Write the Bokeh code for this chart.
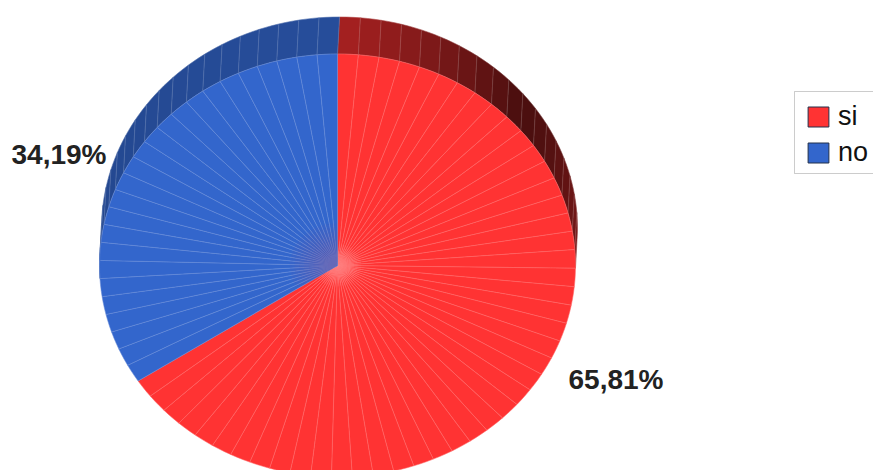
import numpy as np
from bokeh.embed import file_html
from bokeh.resources import INLINE
from bokeh.plotting import figure
from bokeh.models import BoxAnnotation, ColumnDataSource, Legend, LegendItem, Range1d, Label

categories = ["si", "no"]
shares = [65.81, 34.19]
labels = ["65,81%", "34,19%"]
colors = ["#FF3333", "#3366CC"]

W, H = 873, 470
CX, CY, RX, RY = 337.0, 265.0, 238.0, 211.5
DX, DY = 2.0, -37.0
STEP = 5.0


def hex2rgb(h):
    return np.array([int(h[i:i + 2], 16) for i in (1, 3, 5)], dtype=float)


def shade(h, f):
    r = np.clip(hex2rgb(h) * f, 0, 255).astype(int)
    return "#%02x%02x%02x" % tuple(r)


def mix(h, f):
    r = hex2rgb(h)
    r = r + (255 - r) * f
    return "#%02x%02x%02x" % tuple(r.astype(int))


def wall_shade(i, deg):
    # deg: clockwise from 12 o'clock
    if i == 0:
        return np.interp(deg, [0, 50, 62, 95, 130], [0.66, 0.29, 0.33, 0.50, 0.60])
    return np.interp(deg, [230, 300, 360], [0.68, 0.72, 0.76])


faces = {k: [] for k in ("x", "y", "c", "e")}
walls = {k: [] for k in ("x", "y", "c", "e")}
glow = {k: [] for k in ("x", "y", "c", "a")}
start = 0.0
total = sum(shares)
for i, s in enumerate(shares):
    sweep = 360.0 * s / total
    n = int(round(sweep / STEP))
    edges = np.linspace(start, start + sweep, n + 1)
    for a, b in zip(edges[:-1], edges[1:]):
        ang = np.radians(np.linspace(a, b, 4))
        ex = CX + RX * np.sin(ang)
        ey = CY - RY * np.cos(ang)
        faces["x"].append(np.r_[CX, ex].tolist())
        faces["y"].append(np.r_[CY, ey].tolist())
        faces["c"].append(colors[i])
        faces["e"].append(mix(colors[i], 0.25))
        # only the far half of the rim shows a wall
        mid = (a + b) / 2
        if np.cos(np.radians(mid)) > -0.02:
            walls["x"].append(np.r_[ex, (ex + DX)[::-1]].tolist())
            walls["y"].append(np.r_[ey, (ey + DY)[::-1]].tolist())
            col = shade(colors[i], wall_shade(i, mid))
            walls["c"].append(col)
            walls["e"].append(mix(col, 0.2))
    # the dense meeting of the facet lines near the centre
    ang = np.radians(np.linspace(start, start + sweep, 60))
    fracs = np.arange(0.20, 0.02, -0.02) if i == 1 else np.arange(0.10, 0.01, -0.015)
    for frac in fracs:
        glow["x"].append(np.r_[CX, CX + frac * RX * np.sin(ang)].tolist())
        glow["y"].append(np.r_[CY, CY - frac * RY * np.cos(ang)].tolist())
        glow["c"].append("#6f5ba8" if i == 1 else "#ffffff")
        glow["a"].append(0.09 if i == 1 else 0.035)
    start += sweep

p = figure(width=W, height=H, output_backend="svg", toolbar_location=None,
           x_range=Range1d(0, W), y_range=Range1d(H, 0),
           min_border=0, outline_line_color=None, margin=(0, 0, 0, 0))
p.axis.visible = False
p.grid.visible = False

p.patches("x", "y", source=ColumnDataSource(walls), fill_color="c", line_color="e", line_width=0.6)
p.patches("x", "y", source=ColumnDataSource(faces), fill_color="c", line_color="e", line_width=0.55)
p.patches("x", "y", source=ColumnDataSource(glow), fill_color="c", fill_alpha="a", line_color=None)

p.add_layout(BoxAnnotation(left=794, right=W + 10, top=91, bottom=173, fill_alpha=0,
                           line_color="#555555", line_width=1))

nan = float("nan")
swatches = [p.quad(left=[nan], right=[nan], top=[nan], bottom=[nan], fill_color=c,
                   line_color="#22304a", line_width=1) for c in colors]
legend = Legend(items=[LegendItem(label=c, renderers=[r]) for c, r in zip(categories, swatches)],
                location=(805, H - 168), orientation="vertical",
                glyph_width=26, glyph_height=25, label_text_font="Liberation Sans",
                label_text_font_size="27px", label_text_color="#111111", label_standoff=7,
                label_height=24, spacing=5, padding=6, margin=0,
                border_line_color=None, background_fill_alpha=0)
p.add_layout(legend, "center")

for t, x, y in zip(labels, [568, 11], [379, 154]):
    p.add_layout(Label(x=x, y=y, text=t, text_font="Liberation Sans", text_font_style="bold",
                       text_font_size="28px", text_color="#222222", text_baseline="middle"))

open("out.html", "w").write(file_html(p, INLINE))
